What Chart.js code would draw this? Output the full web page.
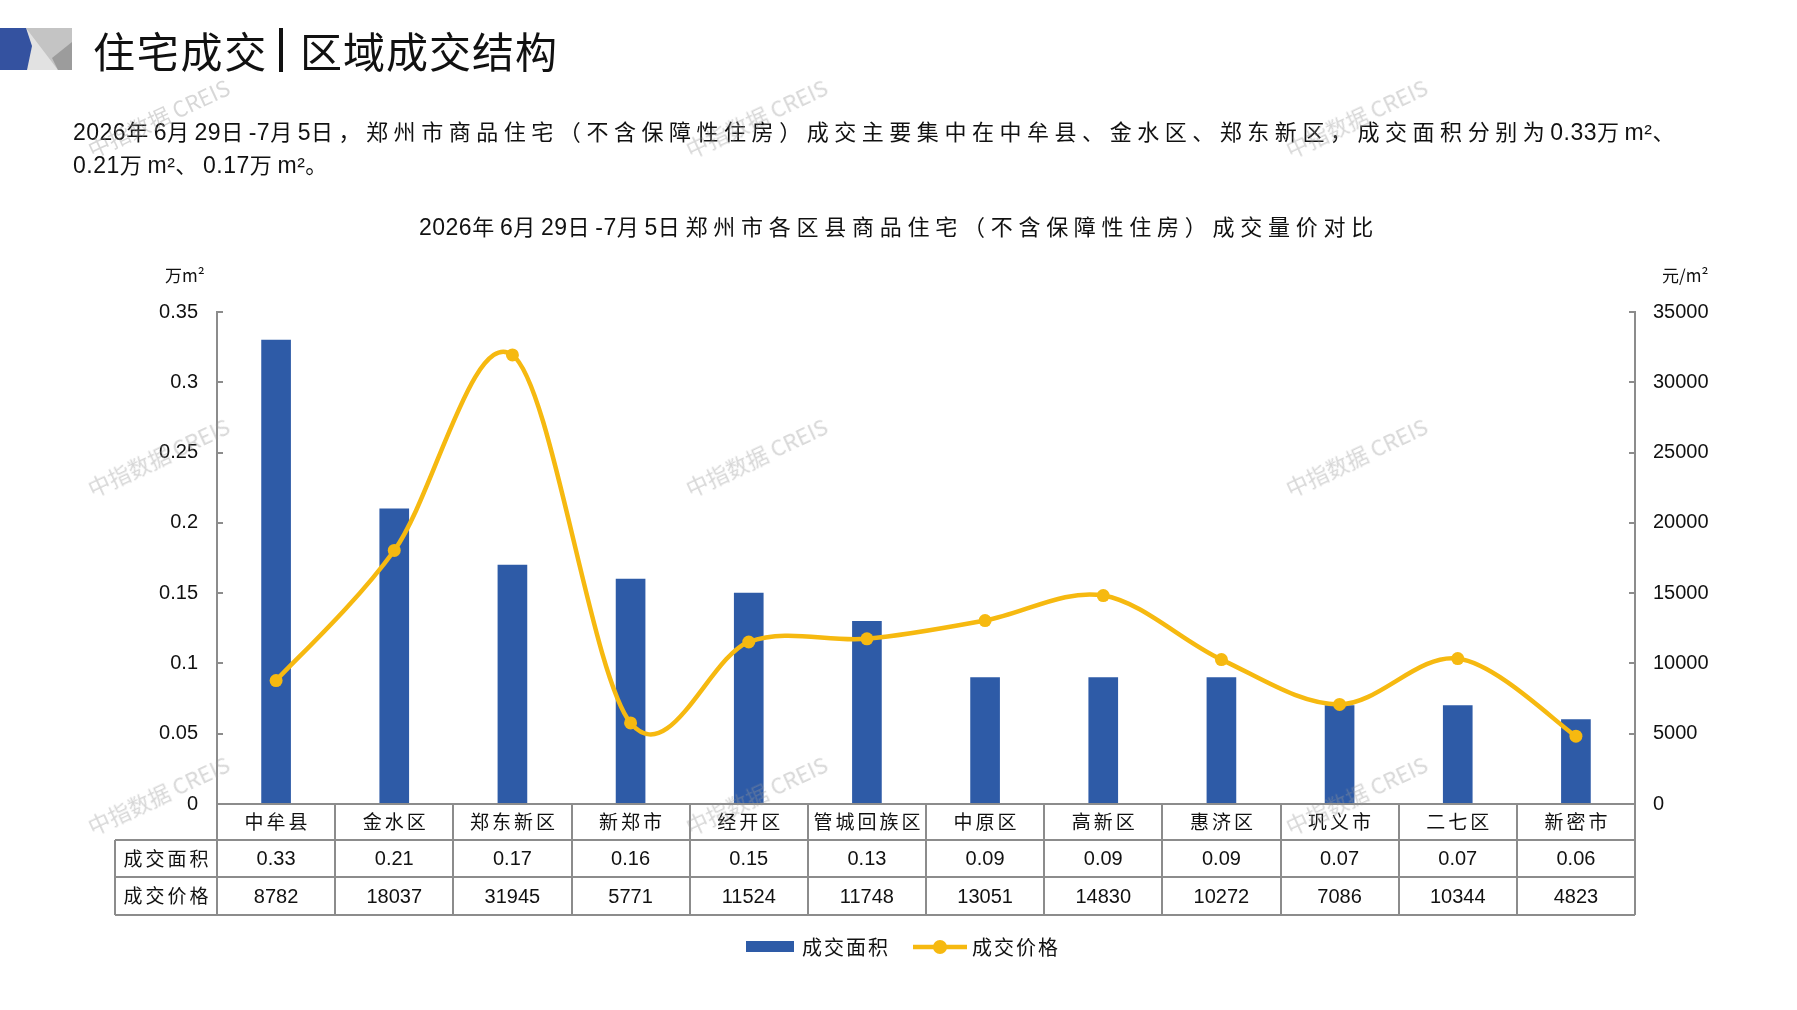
<!DOCTYPE html>
<html>
<head>
<meta charset="utf-8">
<script src="https://cdn.jsdelivr.net/npm/chart.js@4.4.1/dist/chart.umd.min.js"></script>
<style>
  html, body { margin: 0; padding: 0; background: #fff; }
  #wrap { position: relative; width: 1797px; height: 1010px; overflow: hidden; font-family: "Noto Sans CJK SC", sans-serif; color: #111; }
  #chart { position: absolute; left: 0; top: 0; }
  .t { position: absolute; white-space: nowrap; line-height: 1; }
  .t .a { font-family: "Liberation Sans", Arial, sans-serif; }
  .wm { position: absolute; white-space: nowrap; font-family: "Noto Sans CJK SC", sans-serif; font-size: 22px; color: rgba(150,150,150,0.38); transform: translate(-50%, -50%) rotate(-25deg); pointer-events: none; z-index: 5; }
</style>
</head>
<body>
<div id="wrap">
  <canvas id="chart" width="1797" height="1010"></canvas>

  <svg style="position:absolute;left:0;top:28px" width="72" height="42">
    <rect x="0" y="0" width="72" height="42" fill="#c4c4c4"/>
    <polygon points="26,0 58,42 24,42 31,20" fill="#e2e2e2"/>
    <polygon points="72,14 72,42 58,42 52,30" fill="#9c9c9c"/>
    <polygon points="0,0 26,0 32,18 27,42 0,42" fill="#3452a0"/>
  </svg>
  <div class="t" id="h1" style="left:93px;top:29px;font-size:42px;">住宅成交</div>
  <div style="position:absolute;left:279px;top:28px;width:4px;height:44px;background:#111;"></div>
  <div class="t" id="h2" style="left:300px;top:29px;font-size:42px;">区域成交结构</div>

  <div class="t" id="p1" style="left:73px;top:119px;font-size:22px;">2026年6月29日-7月5日，郑州市商品住宅（不含保障性住房）成交主要集中在中牟县、金水区、郑东新区，成交面积分别为0.33万m²、</div>
  <div class="t" id="p2" style="left:73px;top:152px;font-size:22px;">0.21万m²、0.17万m²。</div>

  <div class="t" id="ct" style="left:419px;top:214px;font-size:22px;">2026年6月29日-7月5日郑州市各区县商品住宅（不含保障性住房）成交量价对比</div>
  <div class="t" style="left:165px;top:266px;font-size:17px;">万m²</div>
  <div class="t" style="left:1662px;top:266px;font-size:17px;">元/m²</div>
</div>

<script>
// data
const categories = ['中牟县', '金水区', '郑东新区', '新郑市', '经开区', '管城回族区', '中原区', '高新区', '惠济区', '巩义市', '二七区', '新密市'];
const areaValues = [0.33, 0.21, 0.17, 0.16, 0.15, 0.13, 0.09, 0.09, 0.09, 0.07, 0.07, 0.06];
const priceValues = [8782, 18037, 31945, 5771, 11524, 11748, 13051, 14830, 10272, 7086, 10344, 4823];
const areaTicks = ['0', '0.05', '0.1', '0.15', '0.2', '0.25', '0.3', '0.35'];
const priceTicks = ['0', '5000', '10000', '15000', '20000', '25000', '30000', '35000'];
const seriesNames = ['成交面积', '成交价格'];

const BLUE = '#2e5ba7';
const YELLOW = '#f6b910';
const GRID = '#8c8c8c';
const CJK = '"Noto Sans CJK SC", sans-serif';
const NUM = '"Liberation Sans", Arial, sans-serif';

// watermarks
[[158, 117], [756, 117], [1356, 117], [158, 456], [756, 456], [1356, 456], [158, 794], [756, 794], [1356, 794]].forEach(p => {
  const d = document.createElement('div');
  d.className = 'wm';
  d.textContent = '中指数据 CREIS';
  d.style.left = p[0] + 'px';
  d.style.top = p[1] + 'px';
  document.getElementById('wrap').appendChild(d);
});

// latin runs get their own font and tight spacing, CJK gets spread out
const LATIN = /[0-9.\-\/m²]+/g;
function fit(id, w) {
  const el = document.getElementById(id);
  const txt = el.textContent;
  const fs = parseFloat(el.style.fontSize) + 1;
  el.innerHTML = txt.replace(LATIN, m => '<span class="a" style="font-size:' + fs + 'px">' + m + '</span>');
  el.querySelectorAll('.a').forEach(s => { s.style.letterSpacing = '0.5px'; });
  const cjk = [...txt.replace(LATIN, '')].length;
  const cur = el.getBoundingClientRect().width;
  el.style.letterSpacing = ((w - cur) / cjk) + 'px';
}

// inner tick marks on both value axes
const tickMarks = {
  id: 'tickMarks',
  afterDraw(chart) {
    const { ctx, chartArea: a } = chart;
    ctx.save();
    ctx.strokeStyle = GRID;
    ctx.lineWidth = 2;
    chart.scales.y.ticks.forEach(t => {
      const py = Math.round(chart.scales.y.getPixelForValue(t.value));
      ctx.beginPath(); ctx.moveTo(a.left, py); ctx.lineTo(a.left + 6, py); ctx.stroke();
    });
    chart.scales.y1.ticks.forEach(t => {
      const py = Math.round(chart.scales.y1.getPixelForValue(t.value));
      ctx.beginPath(); ctx.moveTo(a.right - 6, py); ctx.lineTo(a.right, py); ctx.stroke();
    });
    ctx.restore();
  }
};

// smoothing like the office chart: catmull-rom control points
const smoothLine = {
  id: 'smoothLine',
  beforeDatasetDraw(chart, args) {
    const meta = args.meta;
    if (meta.type !== 'line') return;
    const pts = meta.data;
    pts.forEach((p, i) => {
      const prev = pts[i - 1] || p, next = pts[i + 1] || p;
      const dx = (next.x - prev.x) / 6, dy = (next.y - prev.y) / 6;
      p.cp1x = p.x - dx; p.cp1y = p.y - dy;
      p.cp2x = p.x + dx; p.cp2y = p.y + dy;
    });
    meta.dataset._pointsUpdated = true;
  }
};

// data table under the plot
const dataTable = {
  id: 'dataTable',
  afterDraw(chart) {
    const { ctx, chartArea: a } = chart;
    const xs = chart.scales.x;
    const half = (xs.getPixelForValue(1) - xs.getPixelForValue(0)) / 2;
    const left = 115;
    const r0 = a.bottom, r1 = r0 + 36, r2 = r1 + 37, r3 = r2 + 38;
    ctx.save();
    ctx.strokeStyle = GRID;
    ctx.lineWidth = 2;
    ctx.beginPath();
    ctx.moveTo(a.left, r0); ctx.lineTo(a.right, r0);
    [r1, r2, r3].forEach(y => { ctx.moveTo(left, y); ctx.lineTo(a.right, y); });
    ctx.moveTo(left, r1); ctx.lineTo(left, r3);
    for (let i = 0; i <= categories.length; i++) {
      const x = Math.round(xs.getPixelForValue(0) - half + i * 2 * half);
      ctx.moveTo(x, r0); ctx.lineTo(x, r3);
    }
    ctx.stroke();

    ctx.fillStyle = '#111';
    ctx.textAlign = 'center';
    ctx.textBaseline = 'middle';
    ctx.font = '19px ' + CJK;
    ctx.letterSpacing = '3px';
    categories.forEach((c, i) => ctx.fillText(c, xs.getPixelForValue(i) + 1.5, (r0 + r1) / 2));
    ctx.fillText(seriesNames[0], (left + a.left) / 2 + 1.5, (r1 + r2) / 2);
    ctx.fillText(seriesNames[1], (left + a.left) / 2 + 1.5, (r2 + r3) / 2);
    ctx.letterSpacing = '0px';
    ctx.font = '20px ' + NUM;
    areaValues.forEach((v, i) => ctx.fillText(v.toFixed(2), xs.getPixelForValue(i), (r1 + r2) / 2 + 1));
    priceValues.forEach((v, i) => ctx.fillText(String(v), xs.getPixelForValue(i), (r2 + r3) / 2 + 1));
    ctx.restore();
  }
};

// legend drawn below the table
const legendRow = {
  id: 'legendRow',
  afterDraw(chart) {
    const { ctx } = chart;
    const ds = chart.data.datasets;
    const bar = ds.find(d => d.type !== 'line');
    const line = ds.find(d => d.type === 'line');
    const y = 947;
    ctx.save();
    ctx.fillStyle = bar.backgroundColor;
    ctx.fillRect(746, y - 6, 48, 11);
    ctx.strokeStyle = line.borderColor;
    ctx.lineWidth = 4.5;
    ctx.beginPath(); ctx.moveTo(913, y); ctx.lineTo(967, y); ctx.stroke();
    ctx.fillStyle = line.borderColor;
    ctx.beginPath(); ctx.arc(940, y, 7, 0, Math.PI * 2); ctx.fill();
    ctx.fillStyle = '#111';
    ctx.font = '20px ' + CJK;
    ctx.letterSpacing = '2px';
    ctx.textBaseline = 'middle';
    ctx.textAlign = 'left';
    ctx.fillText(bar.label, 802, y);
    ctx.fillText(line.label, 972, y);
    ctx.restore();
  }
};

Chart.defaults.font.family = NUM;
Chart.defaults.color = '#111';

new Chart(document.getElementById('chart'), {
  type: 'bar',
  data: {
    labels: categories,
    datasets: [
      {
        type: 'line',
        label: seriesNames[1],
        data: priceValues,
        yAxisID: 'y1',
        borderColor: YELLOW,
        backgroundColor: YELLOW,
        borderWidth: 4.5,
        pointRadius: 6.5,
        pointBackgroundColor: YELLOW,
        pointBorderWidth: 0,
        tension: 0.4,
        order: 0
      },
      {
        type: 'bar',
        label: seriesNames[0],
        data: areaValues,
        yAxisID: 'y',
        backgroundColor: BLUE,
        barThickness: 29,
        order: 1
      }
    ]
  },
  options: {
    responsive: false,
    devicePixelRatio: 1,
    animation: false,
    layout: { padding: { top: 312, bottom: 206, left: 0, right: 0 } },
    plugins: { legend: { display: false }, tooltip: { enabled: false } },
    scales: {
      x: { display: false },
      y: {
        position: 'left',
        min: 0,
        max: 0.35,
        ticks: { stepSize: 0.05, padding: 19, font: { size: 20 }, callback: (v, i) => areaTicks[i] },
        grid: { drawOnChartArea: false, drawTicks: false },
        border: { color: GRID, width: 2 },
        afterFit: s => { s.width = 217; }
      },
      y1: {
        position: 'right',
        min: 0,
        max: 35000,
        ticks: { stepSize: 5000, padding: 18, font: { size: 20 }, callback: (v, i) => priceTicks[i] },
        grid: { drawOnChartArea: false, drawTicks: false },
        border: { color: GRID, width: 2 },
        afterFit: s => { s.width = 162; }
      }
    }
  },
  plugins: [smoothLine, tickMarks, dataTable, legendRow]
});

document.fonts.ready.then(() => {
  fit('h1', 175);
  fit('h2', 258);
  fit('p1', 1607);
  fit('p2', 260);
  fit('ct', 960);
});
</script>
</body>
</html>
